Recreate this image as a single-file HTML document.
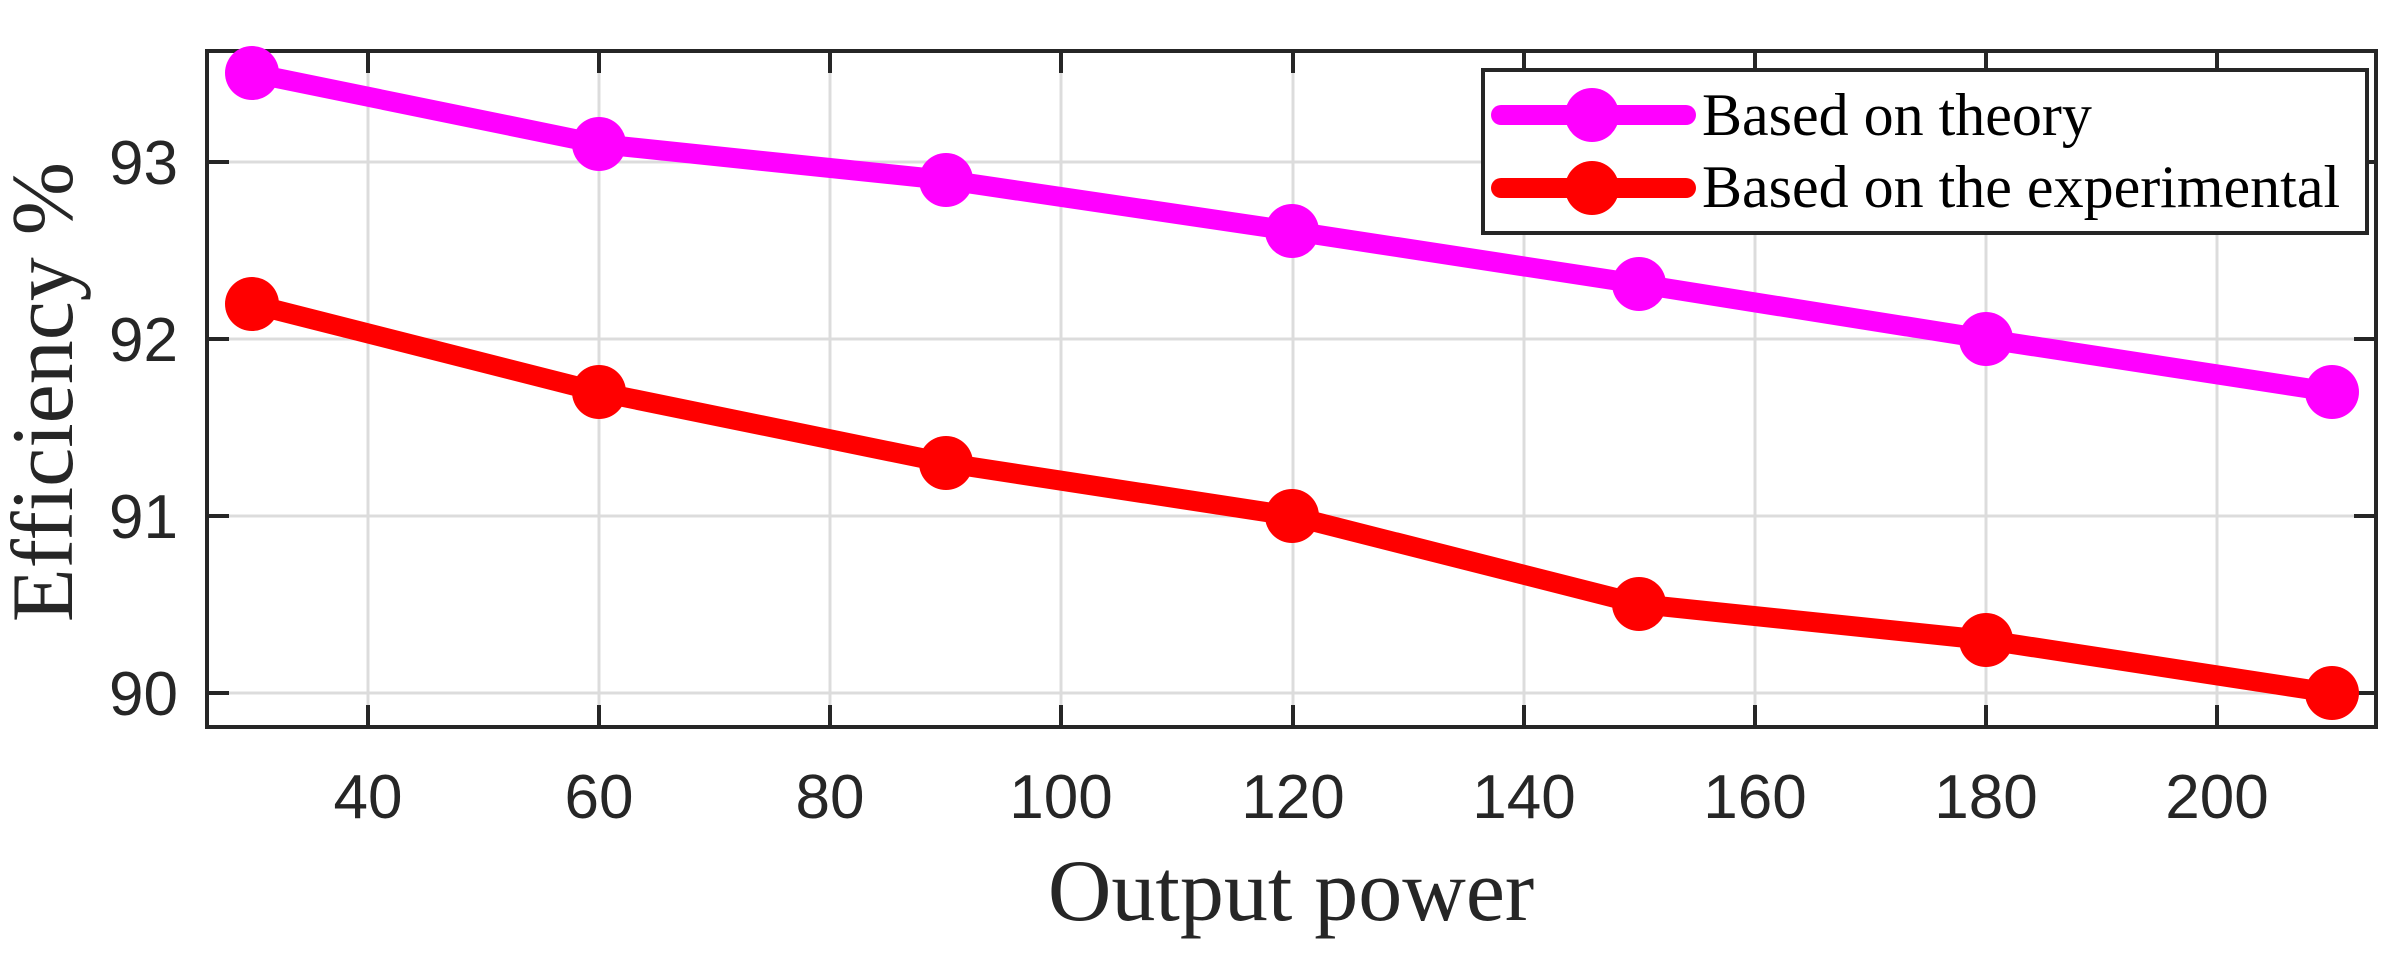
<!DOCTYPE html>
<html><head><meta charset="utf-8"><style>html,body{margin:0;padding:0;background:#fff}svg{display:block}</style></head>
<body>
<svg width="2406" height="964" viewBox="0 0 2406 964" xmlns="http://www.w3.org/2000/svg">
<rect width="2406" height="964" fill="#fff"/>
<g stroke="#dcdcdc" stroke-width="3">
<line x1="368" y1="51" x2="368" y2="727"/><line x1="599" y1="51" x2="599" y2="727"/><line x1="830" y1="51" x2="830" y2="727"/><line x1="1061" y1="51" x2="1061" y2="727"/><line x1="1293" y1="51" x2="1293" y2="727"/><line x1="1524" y1="51" x2="1524" y2="727"/><line x1="1755" y1="51" x2="1755" y2="727"/><line x1="1986" y1="51" x2="1986" y2="727"/><line x1="2217" y1="51" x2="2217" y2="727"/>
<line x1="207" y1="693" x2="2376" y2="693"/><line x1="207" y1="516" x2="2376" y2="516"/><line x1="207" y1="339" x2="2376" y2="339"/><line x1="207" y1="162" x2="2376" y2="162"/>
</g>
<g stroke="#262626" stroke-width="4">
<path d="M368 727v-22M599 727v-22M830 727v-22M1061 727v-22M1293 727v-22M1524 727v-22M1755 727v-22M1986 727v-22M2217 727v-22"/>
<path d="M368 51v22M599 51v22M830 51v22M1061 51v22M1293 51v22M1524 51v22M1755 51v22M1986 51v22M2217 51v22"/>
<path d="M207 693h22M207 516h22M207 339h22M207 162h22M2376 693h-22M2376 516h-22M2376 339h-22M2376 162h-22"/>
<rect x="207" y="51" width="2169" height="676" fill="none"/>
</g>
<g font-family="Liberation Sans, Arial, sans-serif" font-size="62" fill="#262626" text-anchor="middle">
<text x="368" y="818">40</text><text x="599" y="818">60</text><text x="830" y="818">80</text><text x="1061" y="818">100</text><text x="1293" y="818">120</text><text x="1524" y="818">140</text><text x="1755" y="818">160</text><text x="1986" y="818">180</text><text x="2217" y="818">200</text>
</g>
<g font-family="Liberation Sans, Arial, sans-serif" font-size="62" fill="#262626" text-anchor="end">
<text x="178" y="715">90</text><text x="178" y="538">91</text><text x="178" y="361">92</text><text x="178" y="184">93</text>
</g>
<text x="1291" y="920" font-family="Liberation Serif, Times New Roman, serif" font-size="88" fill="#262626" text-anchor="middle">Output power</text>
<text transform="translate(72,392) rotate(-90)" font-family="Liberation Serif, Times New Roman, serif" font-size="88" fill="#262626" text-anchor="middle">Efficiency %</text>
<g fill="none" stroke-width="20" stroke-linejoin="round" stroke-linecap="round">
<polyline stroke="#ff00ff" points="252,73 599,144 946,180 1292,231 1639,284 1986,339 2332,392"/>
<polyline stroke="#ff0000" points="252,304 599,392 946,463 1292,516 1639,604 1986,640 2332,693"/>
</g>
<g fill="#ff00ff">
<circle cx="252" cy="73" r="27"/><circle cx="599" cy="144" r="27"/><circle cx="946" cy="180" r="27"/><circle cx="1292" cy="231" r="27"/><circle cx="1639" cy="284" r="27"/><circle cx="1986" cy="339" r="27"/><circle cx="2332" cy="392" r="27"/>
</g>
<g fill="#ff0000">
<circle cx="252" cy="304" r="27"/><circle cx="599" cy="392" r="27"/><circle cx="946" cy="463" r="27"/><circle cx="1292" cy="516" r="27"/><circle cx="1639" cy="604" r="27"/><circle cx="1986" cy="640" r="27"/><circle cx="2332" cy="693" r="27"/>
</g>
<rect x="1483" y="70" width="884" height="163" fill="#fff" stroke="#262626" stroke-width="4"/>
<g stroke-width="20" stroke-linecap="round">
<line x1="1501" y1="115" x2="1686" y2="115" stroke="#ff00ff"/>
<line x1="1501" y1="188" x2="1686" y2="188" stroke="#ff0000"/>
</g>
<circle cx="1592" cy="115" r="27" fill="#ff00ff"/>
<circle cx="1592" cy="188" r="27" fill="#ff0000"/>
<g font-family="Liberation Serif, Times New Roman, serif" font-size="60" fill="#000">
<text x="1702" y="135">Based on theory</text>
<text x="1702" y="207">Based on the experimental</text>
</g>
</svg>
</body></html>
